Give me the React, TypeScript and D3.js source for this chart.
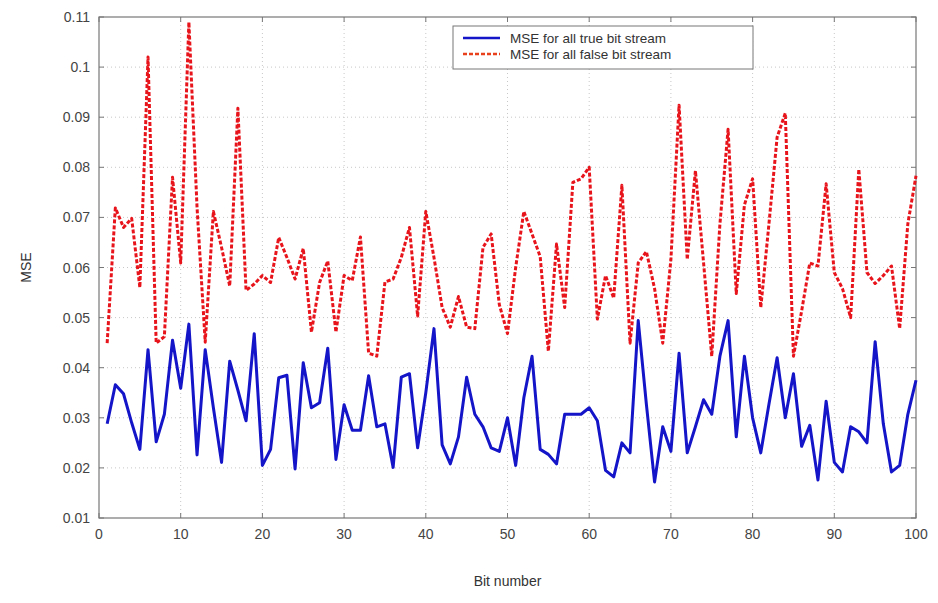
import React, { useRef, useEffect } from "react";
import * as d3 from "d3";

// bit numbers 1..100
const bits: number[] = Array.from({ length: 100 }, (_, i) => i + 1);

const trueMSE: number[] = [
  0.0288, 0.0366, 0.0348, 0.029, 0.0237, 0.0436, 0.0252, 0.0307, 0.0455, 0.0359,
  0.0487, 0.0226, 0.0436, 0.032, 0.0211, 0.0413, 0.0355, 0.0294, 0.0468, 0.0205,
  0.0237, 0.038, 0.0385, 0.0198, 0.041, 0.032, 0.033, 0.0439, 0.0217, 0.0326,
  0.0275, 0.0275, 0.0384, 0.0282, 0.0288, 0.0201, 0.0381, 0.0388, 0.024, 0.035,
  0.0478, 0.0246, 0.0208, 0.0262, 0.0381, 0.0307, 0.0282, 0.024, 0.0233, 0.030,
  0.0205, 0.034, 0.0423, 0.0237, 0.0227, 0.0208, 0.0307, 0.0307, 0.0307, 0.032,
  0.0294, 0.0195, 0.0182, 0.025, 0.023, 0.0494, 0.0327, 0.0172, 0.0282, 0.0233,
  0.0429, 0.023, 0.0282, 0.0336, 0.0307, 0.0423, 0.0494, 0.0262, 0.0423, 0.030,
  0.023, 0.0327, 0.042, 0.030, 0.0388, 0.0243, 0.0285, 0.0176, 0.0333, 0.0211,
  0.0192, 0.0282, 0.0272, 0.025, 0.0452, 0.0288, 0.0192, 0.0205, 0.0307, 0.0375,
];

const falseMSE: number[] = [
  0.0449, 0.0719, 0.068, 0.0698, 0.056, 0.102, 0.0449, 0.0462, 0.078, 0.0609,
  0.109, 0.072, 0.0451, 0.0712, 0.064, 0.0563, 0.0918, 0.0554, 0.0567, 0.0584,
  0.057, 0.066, 0.062, 0.0577, 0.0638, 0.0471, 0.057, 0.0613, 0.0471, 0.0584,
  0.0574, 0.0661, 0.0429, 0.0423, 0.0571, 0.0577, 0.062, 0.068, 0.0503, 0.0712,
  0.062, 0.052, 0.0481, 0.0542, 0.0481, 0.0478, 0.064, 0.0667, 0.0526, 0.0468,
  0.060, 0.0712, 0.0667, 0.0622, 0.0433, 0.0647, 0.052, 0.077, 0.0777, 0.080,
  0.0497, 0.0584, 0.0539, 0.0764, 0.0449, 0.0609, 0.0632, 0.0558, 0.0449, 0.0616,
  0.0924, 0.0616, 0.0793, 0.0609, 0.0423, 0.0687, 0.0876, 0.0548, 0.0725, 0.0777,
  0.052, 0.0687, 0.086, 0.0908, 0.0423, 0.0513, 0.0609, 0.0603, 0.0767, 0.059,
  0.0558, 0.050, 0.0796, 0.059, 0.0568, 0.0584, 0.0603, 0.0478, 0.0687, 0.0783,
];

const xTicks: number[] = [0, 10, 20, 30, 40, 50, 60, 70, 80, 90, 100];
const yTicks: number[] = [0.01, 0.02, 0.03, 0.04, 0.05, 0.06, 0.07, 0.08, 0.09, 0.1, 0.11];

const seriesNames = ["MSE for all true bit stream", "MSE for all false bit stream"];

const Chart = () => {
  const svgRef = useRef<SVGSVGElement>(null);

  useEffect(() => {
    const width = 938;
    const height = 603;
    const margin = { top: 17, right: 22, bottom: 85, left: 99 };
    const font = "'Liberation Sans', Arial, sans-serif";

    const svg = d3.select(svgRef.current).attr("width", width).attr("height", height);
    svg.selectAll("*").remove();

    const x = d3.scaleLinear().domain([0, 100]).range([margin.left, width - margin.right]);
    const y = d3.scaleLinear().domain([0.01, 0.11]).range([height - margin.bottom, margin.top]);

    svg.append("rect").attr("width", width).attr("height", height).attr("fill", "#fff");

    // dotted grid
    const grid = svg.append("g").attr("stroke", "#c8c8c8").attr("stroke-width", 1).attr("stroke-dasharray", "1,3");
    grid.selectAll("line.gx").data(xTicks.slice(1, -1)).join("line")
      .attr("x1", (d) => x(d)).attr("x2", (d) => x(d))
      .attr("y1", y(0.11)).attr("y2", y(0.01));
    grid.selectAll("line.gy").data(yTicks.slice(1, -1)).join("line")
      .attr("y1", (d) => y(d)).attr("y2", (d) => y(d))
      .attr("x1", x(0)).attr("x2", x(100));

    // box
    svg.append("rect")
      .attr("x", x(0)).attr("y", y(0.11))
      .attr("width", x(100) - x(0)).attr("height", y(0.01) - y(0.11))
      .attr("fill", "none").attr("stroke", "#777").attr("stroke-width", 1.2);

    // inward ticks
    const tk = svg.append("g").attr("stroke", "#777").attr("stroke-width", 1);
    xTicks.forEach((t) => {
      tk.append("line").attr("x1", x(t)).attr("x2", x(t)).attr("y1", y(0.01)).attr("y2", y(0.01) - 5);
      tk.append("line").attr("x1", x(t)).attr("x2", x(t)).attr("y1", y(0.11)).attr("y2", y(0.11) + 5);
    });
    yTicks.forEach((t) => {
      tk.append("line").attr("y1", y(t)).attr("y2", y(t)).attr("x1", x(0)).attr("x2", x(0) + 5);
      tk.append("line").attr("y1", y(t)).attr("y2", y(t)).attr("x1", x(100)).attr("x2", x(100) - 5);
    });

    svg.append("g").selectAll("text").data(xTicks).join("text")
      .attr("x", (d) => x(d)).attr("y", y(0.01) + 21)
      .attr("text-anchor", "middle").attr("font-family", font).attr("font-size", 14).attr("fill", "#444")
      .text((d) => d3.format("d")(d));

    svg.append("g").selectAll("text").data(yTicks).join("text")
      .attr("x", x(0) - 9).attr("y", (d) => y(d) + 5)
      .attr("text-anchor", "end").attr("font-family", font).attr("font-size", 14).attr("fill", "#444")
      .text((d) => d3.format("~g")(+d.toFixed(2)));

    svg.append("text").attr("x", (x(0) + x(100)) / 2).attr("y", 586)
      .attr("text-anchor", "middle").attr("font-family", font).attr("font-size", 14).attr("fill", "#333")
      .text("Bit number");
    svg.append("text").attr("transform", `translate(31,${(y(0.01) + y(0.11)) / 2}) rotate(-90)`)
      .attr("text-anchor", "middle").attr("font-family", font).attr("font-size", 14).attr("fill", "#333")
      .text("MSE");

    const line = d3.line<number>().x((_, i) => x(bits[i])).y((d) => y(d));

    svg.append("path").datum(falseMSE).attr("d", line)
      .attr("fill", "none").attr("stroke", "#e8141c").attr("stroke-width", 3)
      .attr("stroke-dasharray", "4,2").attr("stroke-linejoin", "round");

    svg.append("path").datum(trueMSE).attr("d", line)
      .attr("fill", "none").attr("stroke", "#1414c8").attr("stroke-width", 3)
      .attr("stroke-linejoin", "round");

    // legend
    const lg = svg.append("g").attr("transform", "translate(453,26)");
    lg.append("rect").attr("width", 300).attr("height", 43)
      .attr("fill", "#fff").attr("stroke", "#777").attr("stroke-width", 1);
    const styles = [
      { color: "#1414c8", dash: "none" },
      { color: "#e8401c", dash: "4,2" },
    ];
    seriesNames.forEach((name, i) => {
      const ly = 12 + i * 16;
      lg.append("line").attr("x1", 10).attr("x2", 47).attr("y1", ly).attr("y2", ly)
        .attr("stroke", styles[i].color).attr("stroke-width", 2.5).attr("stroke-dasharray", styles[i].dash);
      lg.append("text").attr("x", 57).attr("y", ly + 5)
        .attr("font-family", font).attr("font-size", 13.5).attr("fill", "#333").text(name);
    });
  }, []);

  return <svg ref={svgRef} style={{ position: "absolute", left: 0, top: 0 }}></svg>;
};

export default function App() {
  return <Chart />;
}
